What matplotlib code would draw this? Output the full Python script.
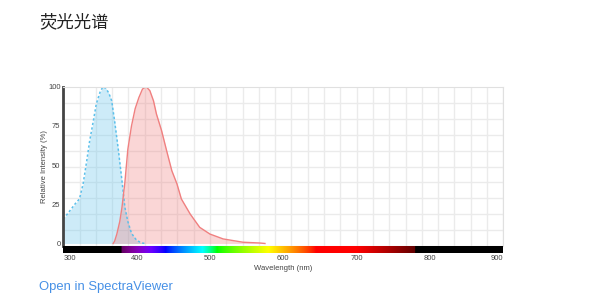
import numpy as np
import matplotlib
matplotlib.use("Agg")
import matplotlib.pyplot as plt

plt.rcParams['font.family'] = ['Liberation Sans', 'DejaVu Sans']

# excitation spectrum (blue, dashed)
ex_wl = [300, 305, 310, 316, 322, 327, 332, 336, 341, 345, 350, 354, 358, 362,
         366, 370, 375, 380, 384, 388, 393, 400, 407, 412]
ex_val = [15.6, 18.5, 21.5, 25.2, 28.4, 38, 52.8, 65.6, 78.3, 89, 96.4, 100, 99, 96,
          91, 78, 60, 40, 23, 14, 6.5, 2, 0.3, 0]

# emission spectrum (red, solid)
em_wl = [368, 370, 373, 377, 380, 384, 388, 393, 398, 403, 408, 413, 418, 423, 427,
         434, 441, 448, 455, 461, 473, 486, 500, 518, 545, 568, 575]
em_val = [0, 1.5, 6, 14, 23, 39, 60, 75, 86, 93, 98.5, 100, 97.5, 91, 82.6,
          72, 59, 46.4, 38, 28.4, 18.8, 10.3, 6, 2.9, 0.8, 0.3, 0]

x_ticks = [300, 400, 500, 600, 700, 800, 900]
y_ticks = [0, 25, 50, 75, 100]


def wavelength_rgb(w):
    # rough visible spectrum colours (Bruton style)
    if 380 <= w < 440:
        r, g, b = -(w - 440) / 60, 0.0, 1.0
    elif 440 <= w < 490:
        r, g, b = 0.0, (w - 440) / 50, 1.0
    elif 490 <= w < 510:
        r, g, b = 0.0, 1.0, -(w - 510) / 20
    elif 510 <= w < 580:
        r, g, b = (w - 510) / 70, 1.0, 0.0
    elif 580 <= w < 645:
        r, g, b = 1.0, -(w - 645) / 65, 0.0
    elif 645 <= w <= 780:
        r, g, b = 1.0, 0.0, 0.0
    else:
        return (0, 0, 0)
    if w < 420:
        f = 0.3 + 0.7 * (w - 380) / 40
    elif w > 700:
        f = 0.3 + 0.7 * (780 - w) / 80
    else:
        f = 1.0
    return tuple((c * f) ** 0.8 for c in (r, g, b))


fig = plt.figure(figsize=(5.94, 3.05), dpi=100)

x0, x1 = 63.3, 503.3
top, bar_top, bar_bot = 86.7, 246.3, 252.7
W, H = 594, 305

ax = fig.add_axes([x0 / W, 1 - bar_top / H, (x1 - x0) / W, (bar_top - top) / H])
ax.set_xlim(300, 900)
ax.set_ylim(-1.8, 100)

ax.fill_between(ex_wl, ex_val, 0, color='#5bc0eb', alpha=0.3, lw=0)
ax.plot(ex_wl, ex_val, color='#5bc0eb', lw=1.1, ls=(0, (1.5, 1.5)))
ax.fill_between(em_wl, em_val, 0, color='#f08080', alpha=0.32, lw=0)
ax.plot(em_wl, em_val, color='#f08080', lw=1.0)

ax.set_xticks(np.linspace(300, 900, 28), minor=True)
ax.set_yticks(np.linspace(-1.8, 100, 11), minor=True)
ax.grid(which='minor', color='#ebebeb', lw=1)
ax.set_axisbelow(True)
ax.set_xticks([])
ax.set_yticks(y_ticks)
ax.set_yticklabels([str(v) for v in y_ticks])
ax.tick_params(axis='y', which='both', length=0, pad=2, labelsize=5.5, labelcolor='#444444')
ax.tick_params(axis='x', which='minor', length=0)
ax.spines['left'].set_color('#444444')
ax.spines['left'].set_linewidth(2)
for s in ['top', 'right']:
    ax.spines[s].set_color('#e0e0e0')
ax.spines['bottom'].set_visible(False)
ax.set_ylabel('Relative Intensity (%)', fontsize=5.5, color='#444444', labelpad=0)

# colour bar below the plot
bar = fig.add_axes([x0 / W, 1 - bar_bot / H, (x1 - x0) / W, (bar_bot - bar_top) / H])
wl = np.linspace(300, 900, 601)
img = np.array([[wavelength_rgb(w) for w in wl]])
bar.imshow(img, extent=[300, 900, 0, 1], aspect='auto')
bar.set_xlim(300, 900)
bar.set_yticks([])
bar.set_xticks(x_ticks)
bar.set_xticklabels([str(v) for v in x_ticks])
bar.tick_params(axis='x', length=0, pad=2, labelsize=5.5, labelcolor='#444444')
labels = bar.get_xticklabels()
labels[0].set_ha('left')
labels[-1].set_ha('right')
for s in bar.spines.values():
    s.set_visible(False)
bar.set_xlabel('Wavelength (nm)', fontsize=5.5, color='#444444', labelpad=2)

fig.text(39 / W, 1 - 22.5 / H, '荧光光谱', fontsize=12.5, color='#222222',
         family=['Noto Sans CJK SC', 'DejaVu Sans'], va='center')
fig.text(39 / W, 1 - 287 / H, 'Open in SpectraViewer', fontsize=9.4, color='#4690e6',
         va='center')

fig.savefig('out.png', dpi=100)
